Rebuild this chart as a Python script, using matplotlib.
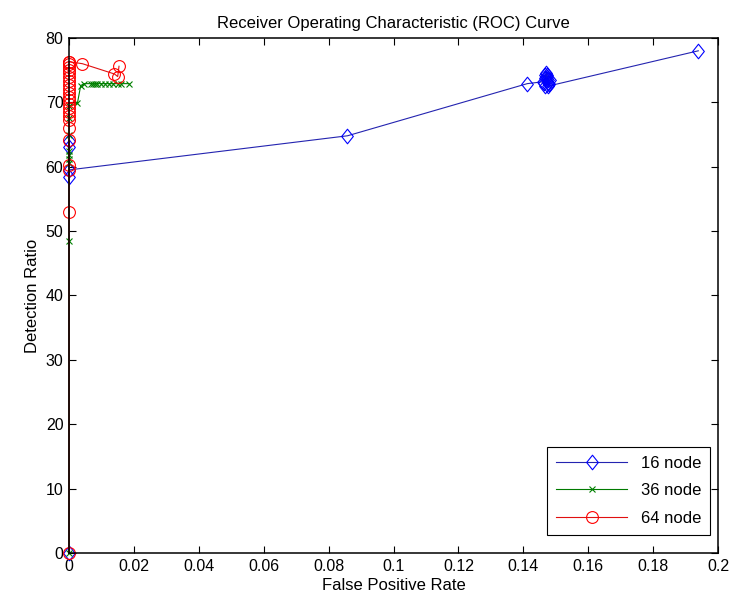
import matplotlib
matplotlib.use("Agg")
import matplotlib.pyplot as plt
from matplotlib.path import Path

plt.rcParams['font.family'] = ['Liberation Sans Narrow', 'Liberation Sans', 'DejaVu Sans']

blue_x = [0, 0, 0, 0, 0, 0.0858, 0.1412, 0.1462, 0.1468, 0.1472, 0.1476, 0.1479,
          0.1470, 0.1465, 0.1481, 0.1474, 0.1468, 0.1477, 0.1472, 0.1466, 0.1480,
          0.1475, 0.1939]
blue_y = [0, 64.0, 63.0, 58.4, 59.5, 64.8, 72.9, 73.2, 73.8, 74.3, 73.5, 72.8,
          74.6, 73.0, 73.4, 74.0, 72.6, 73.0, 73.6, 74.2, 72.9, 72.5, 78.0]

green_x = [0, 0, 0, 0, 0, 0, 0, 0, 0, 0.0026, 0.0036, 0.0046, 0.0068, 0.0074,
           0.0080, 0.0086, 0.0100, 0.0112, 0.0124, 0.0136, 0.0150, 0.0160, 0.0185]
green_y = [0, 48.5, 60.5, 61.2, 61.8, 62.4, 65.0, 67.5, 69.4, 69.9, 72.6, 72.9,
           72.9, 72.9, 72.9, 72.9, 72.9, 72.9, 72.9, 72.9, 72.9, 72.9, 72.9]

red_x = [0, 0, 0, 0, 0, 0, 0, 0, 0, 0, 0, 0, 0, 0, 0, 0, 0, 0, 0, 0, 0, 0, 0, 0,
         0.0041, 0.0140, 0.0150, 0.0154]
red_y = [0, 53.0, 59.5, 60.2, 64.1, 66.0, 67.3, 67.9, 68.5, 69.1, 69.7, 70.3,
         70.9, 71.5, 72.1, 72.7, 73.3, 73.9, 74.5, 75.0, 75.5, 75.9, 76.3, 76.3,
         76.0, 74.4, 74.0, 75.6]

series_labels = ['16 node', '36 node', '64 node']
x_ticks = [0, 0.02, 0.04, 0.06, 0.08, 0.1, 0.12, 0.14, 0.16, 0.18, 0.2]
x_ticklabels = ['0', '0.02', '0.04', '0.06', '0.08', '0.1', '0.12', '0.14', '0.16', '0.18', '0.2']
y_ticks = [0, 10, 20, 30, 40, 50, 60, 70, 80]

diamond = Path([(0, 1), (0.8, 0), (0, -1), (-0.8, 0), (0, 1)],
               [Path.MOVETO, Path.LINETO, Path.LINETO, Path.LINETO, Path.CLOSEPOLY])

fig = plt.figure(figsize=(7.32, 6.02), dpi=100)
ax = fig.add_axes([0.0943, 0.0814, 0.8867, 0.8556])

ax.plot(blue_x, blue_y, color='#2424b0', lw=0.8, marker=diamond, ms=10.5,
        mfc='none', mec='#0000ff', mew=0.8, label=series_labels[0], clip_on=False)
ax.plot(green_x, green_y, color='#007a00', lw=0.8, marker='x', ms=4.5,
        mec='#008000', mew=0.8, label=series_labels[1], clip_on=False)
ax.plot(red_x, red_y, color='#e01010', lw=0.8, marker='o', ms=8.5,
        mfc='none', mec='#ff0000', mew=0.8, label=series_labels[2], clip_on=False)

ax.set_xlim(0, 0.2)
ax.set_ylim(0, 80)
ax.set_xticks(x_ticks)
ax.set_xticklabels(x_ticklabels)
ax.set_yticks(y_ticks)
ax.tick_params(direction='in', top=True, right=True, length=5, width=0.8,
               labelsize=11.5, pad=4)
for s in ax.spines.values():
    s.set_linewidth(1.1)
    s.set_zorder(2.6)

ax.set_title('Receiver Operating Characteristic (ROC) Curve', fontsize=12, pad=7)
ax.set_xlabel('False Positive Rate', fontsize=12, labelpad=3)
ax.set_ylabel('Detection Ratio', fontsize=12, labelpad=4)

leg = ax.legend(loc='lower right', bbox_to_anchor=(0.988, 0.035), borderaxespad=0,
                fontsize=12, handlelength=4.3,
                fancybox=False, framealpha=1, edgecolor='black',
                labelspacing=0.75, borderpad=0.55)
leg.get_frame().set_linewidth(0.8)
leg.set_zorder(5)

fig.savefig('out.png', dpi=100)
